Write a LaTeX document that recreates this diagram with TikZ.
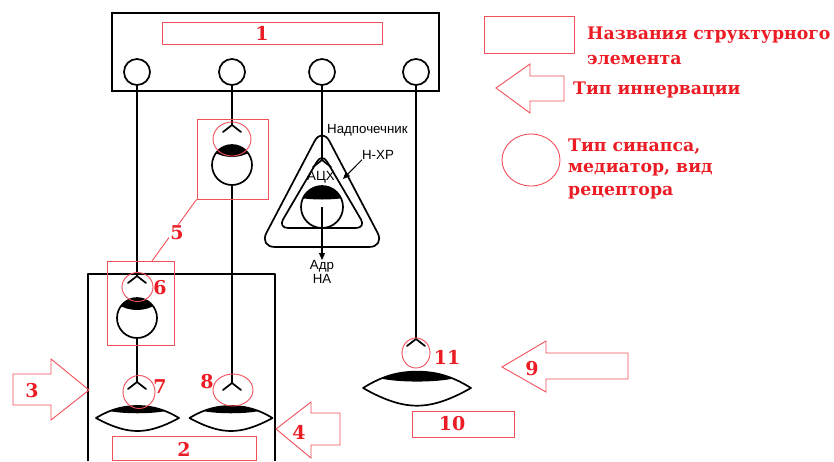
\documentclass[tikz,border=0pt]{standalone}
\usepackage{fontspec}
\newfontfamily\rfont{DejaVu Serif}
\newfontfamily\sfnt{Liberation Sans}
\usetikzlibrary{arrows.meta,calc}
\definecolor{rd}{RGB}{236,28,36}
\definecolor{rl}{RGB}{240,80,90}
\begin{document}
\begin{tikzpicture}[x=1pt,y=-1pt,
 blk/.style={line width=1.7pt,line join=round,line cap=round},
 rbox/.style={draw=rl,line width=1pt,inner sep=0pt},
 rell/.style={draw=rl,line width=0.9pt},
 num/.style={text=rd,font=\rfont\bfseries\fontsize{19}{20}\selectfont,inner sep=0pt},
 leg/.style={text=rd,font=\rfont\bfseries\fontsize{17.3}{20}\selectfont,inner sep=0pt,anchor=west},
 snote/.style={font=\sfnt\fontsize{13.3}{14}\selectfont,inner sep=0pt},
 outc/.style={circle,draw,line width=1.7pt,minimum size=26pt,inner sep=0pt,fill=white},
 body/.style={circle,draw,line width=1.7pt,minimum size=40pt,inner sep=0pt},
 receptor/.pic={\draw[blk] (-9,7) -- (0,0) -- (9,7);},
 gcap/.pic={\begin{scope}\clip (0,0) circle[radius=20];
   \fill (-25,-25) -- (-25,-14) -- (-20,-14) .. controls (-8,-6) and (8,-6) .. (20,-14) -- (25,-14) -- (25,-25) -- cycle;
   \end{scope}},
 acap/.pic={\begin{scope}\clip (0,0) circle[radius=21];
   \fill (-25,-25) -- (-25,-9) -- (-22,-9) .. controls (-8,-7) and (8,-7) .. (22,-9) -- (25,-9) -- (25,-25) -- cycle;
   \end{scope}},
 effector/.pic={
   \begin{scope}
   \clip (-41.5,0) .. controls (-25,-10) and (-12,-12) .. (0,-12) .. controls (12,-12) and (25,-10) .. (41.5,0)
      .. controls (25,9) and (12,13) .. (0,13) .. controls (-12,13) and (-25,9) .. cycle;
   \fill (-28,-20) -- (-28,-7) .. controls (-14,-4) and (14,-4) .. (28,-7) -- (28,-20) -- cycle;
   \end{scope}
   \draw[blk] (-41.5,0) .. controls (-25,-10) and (-12,-12) .. (0,-12) .. controls (12,-12) and (25,-10) .. (41.5,0)
      .. controls (25,9) and (12,13) .. (0,13) .. controls (-12,13) and (-25,9) .. cycle;}
]
\useasboundingbox (0,0) rectangle (834,461);
\fill[white] (0,0) rectangle (834,461);

% central nervous system box
\node[draw,line width=1.7pt,minimum width=327pt,minimum height=78pt,inner sep=0pt] (cns) at (275.5,52) {};
\node[rbox,minimum width=220pt,minimum height=22pt] (b1) at (272,33) {};
\node[num] (n1) at (262,33) {1};
\node[outc] (c1) at (137,72) {};
\node[outc] (c2) at (232,72) {};
\node[outc] (c3) at (322,72) {};
\node[outc] (c4) at (416,72) {};

% organ box 2
\draw[blk,line cap=butt] (88,461) -- (88,274) -- (275,274) -- (275,461);

% receptor / synapse coordinates
\coordinate (r5) at (232,125);
\coordinate (r6) at (137,276);
\coordinate (r7) at (137,382);
\coordinate (r8) at (232,383);
\coordinate (r11) at (416,339);
\coordinate (rA) at (322,160);
\coordinate (e7) at (137.5,418);
\coordinate (e8) at (231,418);
\coordinate (e10) at (417,388);

% ganglion 5
\pic at (232,165) {gcap};
\node[body] (g5) at (232,165) {};
\pic at (r5) {receptor};
\draw[blk] (c2) -- (r5);
\draw[blk] (g5) -- (r8);
\pic at (r8) {receptor};

% ganglion 6
\pic at (137,318) {gcap};
\node[body] (g6) at (137,318) {};
\pic at (r6) {receptor};
\draw[blk] (c1) -- (r6);
\draw[blk] (g6) -- (r7);
\pic at (r7) {receptor};

% effectors
\pic at (e7) {effector};
\pic at (e8) {effector};
\pic[xscale=1.3,yscale=1.36] at (e10) {effector};

% line 4
\draw[blk] (c4) -- (r11);
\pic at (r11) {receptor};

% adrenal
\draw[blk,rounded corners=16] (322,247) -- (259,247) -- (322,127) -- (385,247) -- cycle;
\draw[blk,rounded corners=10] (322,228) -- (278,228) -- (322,153) -- (366,228) -- cycle;
\pic at (322,207) {acap};
\node[body,minimum size=42pt] (am) at (322,207) {};
\draw[blk] (c3) -- (rA);
\pic at (rA) {receptor};
\node[snote] (ach) at (321,177) {АЦХ};
\node[snote,anchor=west] (nadp) at (327,130) {Надпочечник};
\node[snote] (nxr) at (378,155) {Н-ХР};
\coordinate (nxrtip) at (343,179);
\draw[line width=1pt,-{Triangle[length=7pt,width=6pt]}] (nxr.south west) -- (nxrtip);
\node[snote,align=center,anchor=north] (adr) at (322,260) {Адр\\НА};
\draw[line width=1.2pt,-{Triangle[length=7pt,width=6pt]}] (am.center) -- (adr.north);

% red annotations
\node[rbox,minimum width=71pt,minimum height=80pt] (b5) at (232.5,159) {};
\node[rbox,minimum width=67pt,minimum height=84pt] (b6) at (140.5,303) {};
\node[rbox,minimum width=144pt,minimum height=24pt] (b2) at (184,448) {};
\node[rbox,minimum width=102pt,minimum height=26pt] (b10) at (463,424) {};
\coordinate (b6p) at (152,261);
\draw[draw=rl,line width=0.9pt] (b6p) -- (b5.south west);
\node[num,fill=white,inner sep=1pt] (n5) at (177,233) {5};

\draw[rell] (232,139) ellipse[x radius=19,y radius=17];
\draw[rell] (137.5,287) ellipse[x radius=15.5,y radius=14.5];
\draw[rell] (139,392) ellipse[x radius=16,y radius=16.5];
\draw[rell] (233,390) ellipse[x radius=20,y radius=16];
\draw[rell] (416,353) ellipse[x radius=14,y radius=15];

\node[num] (n2) at (184,449) {2};
\node[num] (n6) at (160,288) {6};
\node[num] (n7) at (160,387) {7};
\node[num] (n8) at (207,382) {8};
\node[num] (n10) at (452,424) {10};
\node[num] (n11) at (447,357) {11};

% block arrows
\draw[draw=rl,line width=0.9pt] (13,374) -- (51,374) -- (51,359) -- (89,390) -- (51,420) -- (51,405) -- (13,405) -- cycle;
\node[num] (n3) at (32,391) {3};
\draw[draw=rl,line width=0.9pt] (276,429) -- (311,402) -- (311,413) -- (340,413) -- (340,445) -- (311,445) -- (311,458) -- cycle;
\node[num] (n4) at (299,432) {4};
\draw[draw=rl,line width=0.9pt] (502,367) -- (546,341) -- (546,353) -- (628,353) -- (628,379) -- (546,379) -- (546,392) -- cycle;
\node[num] (n9) at (532,369) {9};

% legend
\node[rbox,minimum width=90pt,minimum height=37pt] (lb) at (529,34.5) {};
\node[leg] (l1) at (587,35) {Названия структурного};
\node[leg] (l2) at (587,60) {элемента};
\draw[draw=rl,line width=0.9pt] (496,88) -- (530,64) -- (530,76) -- (564,76) -- (564,101) -- (530,101) -- (530,113) -- cycle;
\node[leg] (l3) at (573,90) {Тип иннервации};
\draw[rell] (531,160) ellipse[x radius=29,y radius=26];
\node[leg] (l4) at (568,147) {Тип синапса,};
\node[leg] (l5) at (568,170) {медиатор, вид};
\node[leg] (l6) at (568,193) {рецептора};
\end{tikzpicture}
\end{document}
